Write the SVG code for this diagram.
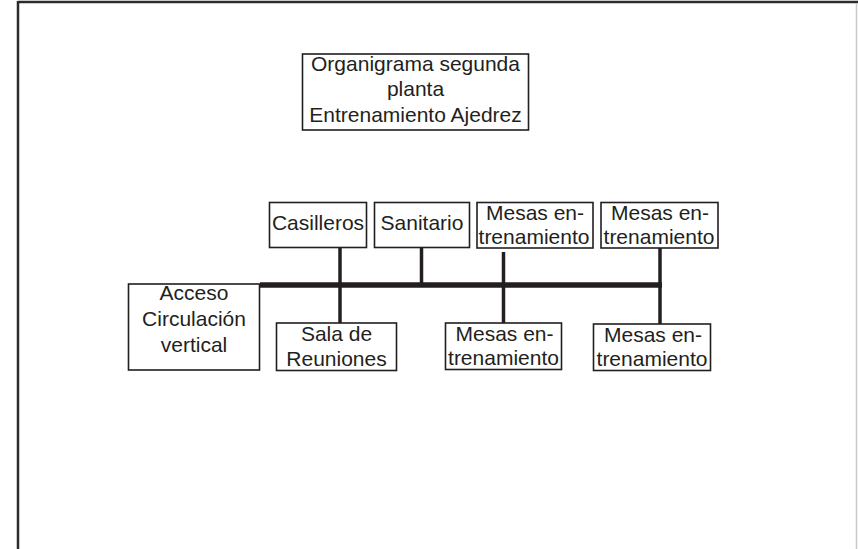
<svg xmlns="http://www.w3.org/2000/svg" width="858" height="549" viewBox="0 0 858 549">
<style>
.box{fill:#fff;stroke:#231f20;stroke-width:1.6}
.t{font-family:"Liberation Sans",Arial,sans-serif;font-size:21px;fill:#231f20;text-anchor:middle}
.c{stroke:#231f20;stroke-width:3.5;fill:none}
.bus{stroke:#231f20;stroke-width:5.5;fill:none}
</style>
<rect x="0" y="0" width="858" height="549" fill="#fff"/>
<g id="frame">
<line x1="18" y1="2" x2="858" y2="2" stroke="#2b2b2b" stroke-width="2.5"/>
<line x1="18" y1="1" x2="18" y2="549" stroke="#2b2b2b" stroke-width="2.5"/>
<line x1="856.5" y1="3" x2="856.5" y2="549" stroke="#c8c8c8" stroke-width="1.5"/>
</g>
<g id="connectors">
<line class="bus" x1="260" y1="285" x2="662" y2="285"/>
<line class="c" x1="340" y1="248" x2="340" y2="323"/>
<line class="c" x1="421.5" y1="248" x2="421.5" y2="285"/>
<line class="c" x1="503.5" y1="252" x2="503.5" y2="323"/>
<line class="c" x1="660" y1="248" x2="660" y2="324"/>
</g>
<g id="title">
<rect class="box" x="302.5" y="54" width="226" height="76"/>
<text class="t" x="415.5" y="71">Organigrama segunda</text>
<text class="t" x="415.5" y="96">planta</text>
<text class="t" x="415.5" y="122">Entrenamiento Ajedrez</text>
</g>
<g id="casilleros">
<rect class="box" x="269.5" y="202.5" width="97" height="45"/>
<text class="t" x="318" y="230">Casilleros</text>
</g>
<g id="sanitario">
<rect class="box" x="374.5" y="202.5" width="95" height="45"/>
<text class="t" x="422" y="230">Sanitario</text>
</g>
<g id="mesas-top-1">
<rect class="box" x="477" y="202.5" width="116" height="45.5"/>
<text class="t" x="535" y="220">Mesas en-</text>
<text class="t" x="534" y="244">trenamiento</text>
</g>
<g id="mesas-top-2">
<rect class="box" x="601" y="202.5" width="117" height="45.5"/>
<text class="t" x="660" y="220">Mesas en-</text>
<text class="t" x="659" y="244">trenamiento</text>
</g>
<g id="acceso">
<rect class="box" x="128.5" y="284" width="131" height="86"/>
<text class="t" x="194" y="300">Acceso</text>
<text class="t" x="194" y="326">Circulación</text>
<text class="t" x="194" y="352">vertical</text>
</g>
<g id="sala">
<rect class="box" x="276.5" y="323" width="120" height="47.5"/>
<text class="t" x="336.5" y="341">Sala de</text>
<text class="t" x="336.5" y="366">Reuniones</text>
</g>
<g id="mesas-bottom-1">
<rect class="box" x="445.5" y="323" width="116" height="46.5"/>
<text class="t" x="504.5" y="341">Mesas en-</text>
<text class="t" x="503.5" y="365">trenamiento</text>
</g>
<g id="mesas-bottom-2">
<rect class="box" x="593.5" y="324" width="117" height="46.5"/>
<text class="t" x="653" y="342">Mesas en-</text>
<text class="t" x="652" y="366">trenamiento</text>
</g>
</svg>
